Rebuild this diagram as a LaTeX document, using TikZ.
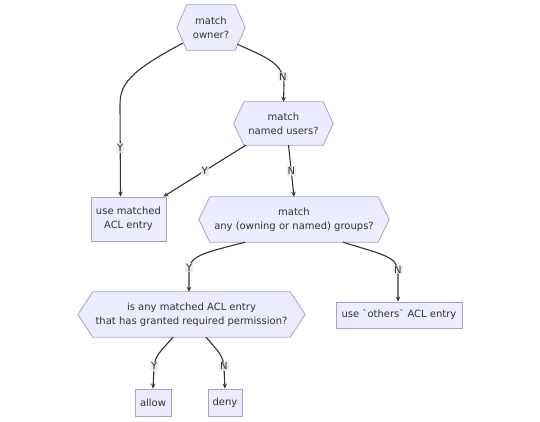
\documentclass[tikz,border=0pt]{standalone}
\usepackage{fontspec}
\setmainfont{DejaVu Sans}
\usetikzlibrary{backgrounds,arrows.meta}
\definecolor{nodefill}{HTML}{ECECFF}
\definecolor{nodeline}{HTML}{A3A3CF}
\definecolor{edgecol}{HTML}{333333}
\definecolor{txt}{HTML}{333333}
\definecolor{lblbg}{HTML}{E8E8E8}
\tikzset{
  base/.style={font=\fontsize{10}{14}\selectfont, text=txt, align=center, inner sep=0pt},
  hexcore/.style={base, draw=none, minimum height=45pt},
  boxnode/.style={base, draw=nodeline, fill=nodefill, line width=0.8pt},
  hexline/.style={draw=nodeline, fill=nodefill, line width=0.8pt},
  edge/.style={draw=edgecol, line width=1.1pt, -{Stealth[length=5pt,width=4.5pt]}},
  elabel/.style={base, fill=lblbg, fill opacity=0.8, text opacity=1, inner sep=1pt},
}
\newcommand{\hexframe}[2]{%
  \path[hexline] (#1.north west) -- (#1.north east) -- ([xshift=#2]#1.east) -- (#1.south east) -- (#1.south west) -- ([xshift=-#2]#1.west) -- cycle;}
\begin{document}
\begin{tikzpicture}[x=1pt,y=-1pt]
\useasboundingbox (0,0) rectangle (540,422);
% hexagon decision nodes
\node[hexcore, minimum width=48pt, minimum height=45pt] (owner) at (211,27.5) {match\\owner?};
\node[hexcore, minimum width=79pt, minimum height=43pt] (named) at (283.5,123.5) {match\\named users?};
\node[hexcore, minimum width=168pt, minimum height=45pt] (groups) at (294,219.5) {match\\any (owning or named) groups?};
\node[hexcore, minimum width=197pt, minimum height=45pt] (isany) at (191.5,314.5) {is any matched ACL entry\\that has granted required permission?};
% rectangle nodes
\node[boxnode, minimum width=75pt, minimum height=44pt] (used) at (128.5,219) {use matched\\ACL entry};
\node[boxnode, minimum width=126pt, minimum height=26pt] (others) at (399,315) {use \textasciigrave others\textasciigrave{} ACL entry};
\node[boxnode, minimum width=36pt, minimum height=27pt] (allow) at (153,402.5) {allow};
\node[boxnode, minimum width=34pt, minimum height=27pt] (deny) at (225,402.5) {deny};
\begin{scope}[on background layer]
\fill[white] (0,0) rectangle (540,422);
\hexframe{owner}{10pt}
\hexframe{named}{10pt}
\hexframe{groups}{11pt}
\hexframe{isany}{15pt}
\end{scope}
% edges
\draw[edge] ([xshift=-4pt,yshift=7pt]owner.south west) .. controls (128,72) and (120,85) .. (120,105) -- node[elabel, pos=0.47] {Y} ([xshift=-8pt]used.north);
\draw[edge] ([xshift=2pt,yshift=6pt]owner.south east) .. controls (268,58) and (284,64) .. node[elabel, pos=0.85] {N} (284,85) -- (named.north);
\draw[edge] ([xshift=2pt]named.south west) -- node[elabel] {Y} ([xshift=-3pt]used.north east);
\draw[edge] ([xshift=5pt]named.south) -- node[elabel] {N} (groups.north);
\draw[edge] ([xshift=-49pt]groups.south) .. controls (208,252) and (189,255) .. node[elabel, pos=0.95] {Y} (189,270) -- ([xshift=-2.5pt]isany.north);
\draw[edge] ([xshift=49pt]groups.south) .. controls (380,254) and (398,256) .. node[elabel, pos=0.95] {N} (398,272) -- ([xshift=-1pt]others.north);
\draw[edge] ([xshift=-18.5pt]isany.south) .. controls (162,350) and (154,356) .. node[elabel, pos=0.95] {Y} (154,368) -- (allow.north);
\draw[edge] ([xshift=14.5pt]isany.south) .. controls (217,350) and (224,356) .. node[elabel, pos=0.95] {N} (224,368) -- (deny.north);
\end{tikzpicture}
\end{document}
